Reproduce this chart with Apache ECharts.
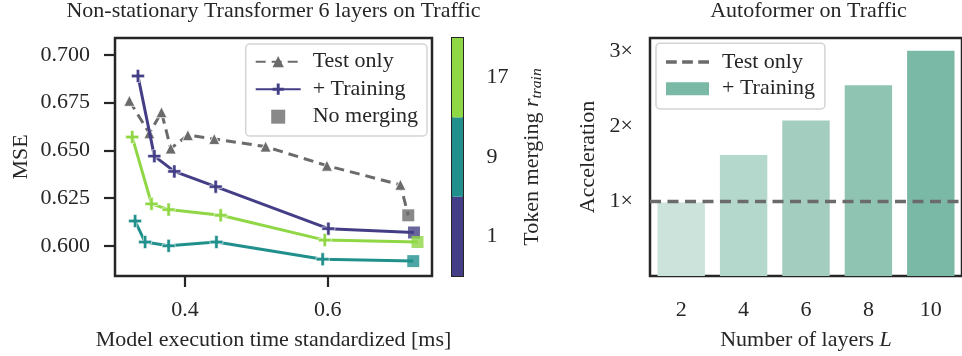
<!DOCTYPE html>
<html>
<head>
<meta charset="utf-8">
<script src="https://cdn.jsdelivr.net/npm/echarts@6/dist/echarts.min.js"></script>
<style>
  html, body { margin: 0; padding: 0; background: #ffffff; }
  #chart { width: 962px; height: 356px; }
</style>
</head>
<body>
<div id="chart"></div>
<script>
// ---- Left panel: MSE vs. execution time ----
const testOnlyTime = [0.322, 0.350, 0.367, 0.380, 0.404, 0.441, 0.513, 0.599, 0.702];
const testOnlyMse  = [0.676, 0.659, 0.670, 0.651, 0.658, 0.656, 0.652, 0.642, 0.632];

const train1Time  = [0.334, 0.357, 0.385, 0.443, 0.601];
const train1Mse   = [0.689, 0.647, 0.639, 0.631, 0.609];
const train9Time  = [0.330, 0.344, 0.377, 0.444, 0.593];
const train9Mse   = [0.613, 0.602, 0.600, 0.602, 0.593];
const train17Time = [0.326, 0.353, 0.377, 0.450, 0.596];
const train17Mse  = [0.657, 0.622, 0.619, 0.616, 0.603];

// no-merging reference points: test only, r=1, r=9, r=17
const noMergeTime = [0.713, 0.721, 0.720, 0.726];
const noMergeMse  = [0.616, 0.607, 0.592, 0.602];

const mseTicks  = [0.600, 0.625, 0.650, 0.675, 0.700];
const timeTicks = [0.4, 0.6];

// colorbar levels for r_train
const rTrainLevels = ['1', '9', '17'];

// ---- Right panel: acceleration per layer count ----
const layerCounts  = ['2', '4', '6', '8', '10'];
const acceleration = [0.98, 1.61, 2.07, 2.54, 3.00];
const accelTicks   = [1, 2, 3];
const baselineAccel = 1;

// ---- styling ----
const INK = '#262626';
const GRAY = '#6b6b6b';
const FONT = 'Liberation Serif';
const FS = 22;
const rColors = ['#433e85', '#21908d', '#8fd744'];
const barColors = ['#cce3dc', '#b5d8cd', '#a2cdbf', '#8fc4b3', '#7ab9a5'];
const PLUS = 'path://M3.7,0H6.3V3.7H10V6.3H6.3V10H3.7V6.3H0V3.7H3.7Z';
const SQUARE = 'path://M0,0H10V10H0Z';
const DASH3 = 'path://M0,0h11v3.4h-11z M16.5,0h11v3.4h-11z M33,0h11v3.4h-11z';

function pairs(xs, ys) { return xs.map((x, i) => [x, ys[i]]); }
function withEnd(xs, ys, k) {
  const pts = pairs(xs, ys);
  pts.push({ value: [noMergeTime[k], noMergeMse[k]], symbol: 'none' });
  return pts;
}

const tickStyle = { length: 11, lineStyle: { color: INK, width: 2.2 } };
const labelStyle = { color: INK, fontFamily: FONT, fontSize: FS };
const nameStyle = { color: INK, fontFamily: FONT, fontSize: FS };

const trainSeries = (name, xs, ys, k, ci) => ({
  name: name, type: 'line', xAxisIndex: 0, yAxisIndex: 0,
  data: withEnd(xs, ys, k),
  symbol: PLUS, symbolSize: 13,
  color: rColors[ci],
  itemStyle: { color: rColors[ci], borderColor: '#ffffff', borderWidth: 0.6 },
  lineStyle: { color: rColors[ci], width: 3 },
  z: 3
});

const chart = echarts.init(document.getElementById('chart'), null, { renderer: 'canvas' });

chart.setOption({
  animation: false,
  backgroundColor: '#ffffff',
  textStyle: { fontFamily: FONT, color: INK },
  title: [
    { text: 'Non-stationary Transformer 6 layers on Traffic', left: 273.5, top: 0, textAlign: 'center', padding: 0,
      textStyle: { fontFamily: FONT, fontSize: FS, fontWeight: 'normal', color: INK } },
    { text: 'Autoformer on Traffic', left: 808.5, top: 0, textAlign: 'center', padding: 0,
      textStyle: { fontFamily: FONT, fontSize: FS, fontWeight: 'normal', color: INK } }
  ],
  grid: [
    { left: 115, top: 38, width: 317, height: 238, show: true, borderColor: INK, borderWidth: 2.5, backgroundColor: 'transparent' },
    { left: 452, top: 38, width: 11, height: 238, show: true, borderColor: INK, borderWidth: 2, backgroundColor: 'transparent' },
    { left: 650, top: 38, width: 317, height: 238, show: true, borderColor: INK, borderWidth: 2.5, backgroundColor: 'transparent' }
  ],
  xAxis: [
    { type: 'value', gridIndex: 0, min: 0.3018, max: 0.7463,
      axisLine: { show: false }, splitLine: { show: false },
      axisTick: Object.assign({ customValues: timeTicks }, tickStyle),
      axisLabel: Object.assign({ customValues: timeTicks, margin: 23, formatter: v => v.toFixed(1) }, labelStyle),
      name: 'Model execution time standardized [ms]', nameLocation: 'middle', nameGap: 53, nameTextStyle: nameStyle },
    { type: 'value', gridIndex: 1, min: 0, max: 1, show: false },
    { type: 'category', gridIndex: 2, data: layerCounts, boundaryGap: true,
      axisLine: { show: false }, splitLine: { show: false },
      axisTick: Object.assign({ alignWithLabel: true }, tickStyle),
      axisLabel: Object.assign({ margin: 23 }, labelStyle),
      name: 'Number of layers {it|L}', nameLocation: 'middle', nameGap: 53,
      nameTextStyle: Object.assign({ rich: { it: { fontFamily: FONT, fontSize: FS, fontStyle: 'italic', color: INK } } }, nameStyle) }
  ],
  yAxis: [
    { type: 'value', gridIndex: 0, min: 0.5842, max: 0.7089,
      axisLine: { show: false }, splitLine: { show: false },
      axisTick: Object.assign({ customValues: mseTicks }, tickStyle),
      axisLabel: Object.assign({ customValues: mseTicks, margin: 25, formatter: v => v.toFixed(3) }, labelStyle),
      name: 'MSE', nameLocation: 'middle', nameGap: 83, nameTextStyle: nameStyle },
    { type: 'category', gridIndex: 1, data: rTrainLevels, position: 'right',
      axisLine: { show: false }, splitLine: { show: false },
      axisTick: Object.assign({ alignWithLabel: true }, tickStyle),
      axisLabel: Object.assign({ margin: 23.5 }, labelStyle) },
    { type: 'value', gridIndex: 2, min: 0, max: 3.17,
      axisLine: { show: false }, splitLine: { show: false },
      axisTick: Object.assign({ customValues: accelTicks }, tickStyle),
      axisLabel: Object.assign({ customValues: accelTicks, margin: 17, formatter: v => v + '×' }, labelStyle),
      name: 'Acceleration', nameLocation: 'middle', nameGap: 51, nameTextStyle: nameStyle }
  ],
  legend: [
    { orient: 'vertical', left: 245.7, top: 44, selectedMode: false,
      padding: [6.7, 9, 8.3, 9], itemWidth: 45, itemHeight: 14, itemGap: 5.5,
      backgroundColor: 'rgba(255,255,255,0.85)', borderColor: '#d4d4d4', borderWidth: 1.5, borderRadius: 4,
      textStyle: { fontFamily: FONT, fontSize: FS, color: INK, lineHeight: 22, padding: [0, 0, 0, 7] },
      data: [
        { name: 'Test only', itemStyle: { borderWidth: 0 } },
        { name: '+ Training', itemStyle: { borderWidth: 0 } },
        { name: 'No merging', icon: SQUARE, itemStyle: { color: GRAY, borderWidth: 0 } }
      ] },
    { orient: 'vertical', left: 656, top: 43.3, selectedMode: false,
      padding: [7.7, 10, 9.3, 10], itemWidth: 43, itemHeight: 13, itemGap: 4.7,
      backgroundColor: 'rgba(255,255,255,0.85)', borderColor: '#d4d4d4', borderWidth: 1.5, borderRadius: 4,
      textStyle: { fontFamily: FONT, fontSize: FS, color: INK, lineHeight: 22, padding: [0, 0, 0, 8] },
      data: [
        { name: 'Test only', icon: DASH3, itemStyle: { color: GRAY, borderWidth: 0, opacity: 1 } },
        { name: '+ Training', icon: 'rect', itemStyle: { color: barColors[4], borderWidth: 0 } }
      ] }
  ],
  graphic: [
    { type: 'text', x: 532, y: 157, rotation: Math.PI / 2, z: 10,
      style: { text: 'Token merging {r|r}{s|train}', align: 'center', verticalAlign: 'middle',
        fontFamily: FONT, fontSize: FS, fill: INK,
        rich: {
          r: { fontFamily: FONT, fontSize: FS, fontStyle: 'italic', fill: INK },
          s: { fontFamily: FONT, fontSize: 15.5, fontStyle: 'italic', fill: INK, padding: [10, 0, 0, 0] }
        } } }
  ],
  series: [
    { name: 'Test only', type: 'line', xAxisIndex: 0, yAxisIndex: 0,
      data: withEnd(testOnlyTime, testOnlyMse, 0),
      symbol: 'triangle', symbolSize: 11, color: GRAY,
      itemStyle: { color: GRAY, borderColor: '#ffffff', borderWidth: 0.8 },
      lineStyle: { color: GRAY, width: 3, type: [10, 6] }, z: 2 },
    trainSeries('+ Training', train1Time, train1Mse, 1, 0),
    trainSeries('r = 9', train9Time, train9Mse, 2, 1),
    trainSeries('r = 17', train17Time, train17Mse, 3, 2),
    { name: 'No merging', type: 'scatter', xAxisIndex: 0, yAxisIndex: 0,
      symbol: 'rect', symbolSize: 12, color: GRAY, z: 5,
      data: noMergeTime.map((x, i) => ({ value: [x, noMergeMse[i]], itemStyle: { color: i === 0 ? GRAY : rColors[i - 1] } })) },
    { name: 'colorbar', type: 'bar', xAxisIndex: 1, yAxisIndex: 1, barWidth: '100%', barCategoryGap: '0%',
      data: rTrainLevels.map((r, i) => ({ value: 1, itemStyle: { color: rColors[i] } })), z: 1 },
    { name: '+ Training', type: 'bar', xAxisIndex: 2, yAxisIndex: 2, barWidth: '76%',
      color: barColors[4],
      data: acceleration.map((v, i) => ({ value: v, itemStyle: { color: barColors[i] } })), z: 1 },
    { name: 'Test only', type: 'line', xAxisIndex: 2, yAxisIndex: 2, data: [], z: 5,
      color: GRAY,
      markLine: { silent: true, symbol: ['none', 'none'], label: { show: false },
        lineStyle: { color: GRAY, width: 3.3, type: [11, 6.5] },
        data: [{ yAxis: baselineAccel }] } }
  ]
});
</script>
</body>
</html>
